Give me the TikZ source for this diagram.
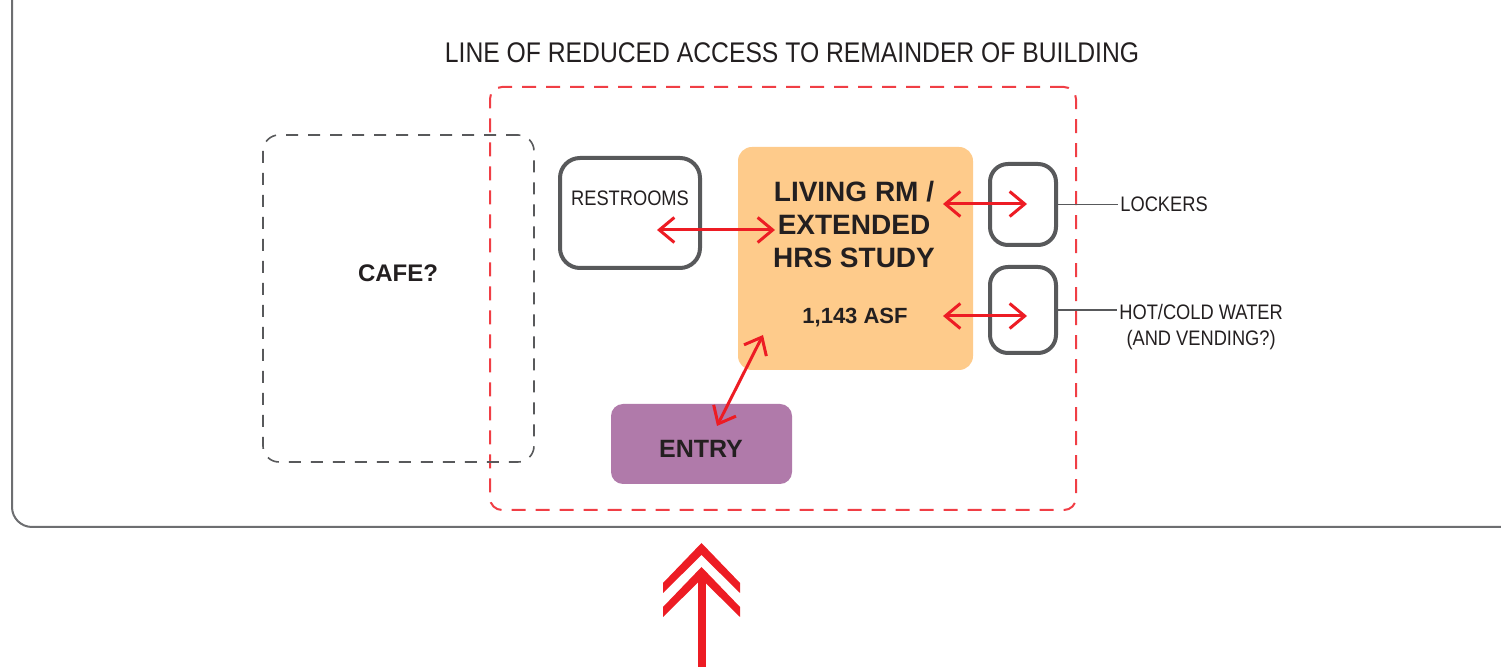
\documentclass[tikz,border=0pt]{standalone}
\usepackage{fontspec}
\setmainfont{Liberation Sans}
\newfontfamily\narrowsf{Liberation Sans}[FakeStretch=0.87]
\usetikzlibrary{arrows.meta, positioning}
\definecolor{ink}{HTML}{231F20}
\definecolor{alert}{HTML}{ED1C24}
\definecolor{wallgray}{HTML}{6D6E71}
\definecolor{boxgray}{HTML}{58595B}
\definecolor{study}{HTML}{FECB8B}
\definecolor{entryc}{HTML}{B07AAA}
\tikzset{
  wall/.style={draw=wallgray, line width=1pt, rounded corners=10pt},
  zone/.style={draw=alert!85, line width=1pt, dash pattern=on 7pt off 5pt,
               rounded corners=6pt},
  cafezone/.style={draw=boxgray, line width=0.8pt, dash pattern=on 6pt off 5pt,
               rounded corners=8pt},
  rm/.style={draw=boxgray, line width=2pt, rounded corners=10pt},
  lbl/.style={text=ink, inner sep=1pt, font=\fontsize{10.5}{12.7}\selectfont\narrowsf},
  hd/.style={text=ink, inner sep=1pt, align=center, font=\fontsize{14}{16.5}\selectfont\bfseries},
  fl/.style={{Straight Barb[length=7.5pt, width=12.5pt]}-{Straight Barb[length=7.5pt, width=12.5pt]},
             draw=alert, line width=1.5pt},
  ld/.style={draw=boxgray, line width=0.6pt},
}

\begin{document}
\begin{tikzpicture}[x=0.5pt, y=-0.5pt]
  \useasboundingbox (0,0) rectangle (1501,667);
  % building edge
  \draw[wall] (12,0) -- (12,527) -- (1501,527);
  \node[lbl, font=\fontsize{14.2}{17}\selectfont\narrowsf] (title) at (792,53)
    {LINE OF REDUCED ACCESS TO REMAINDER OF BUILDING};

  % zones
  \node[zone, minimum width=293pt, minimum height=211.5pt] (zone) at (783,298.5) {};
  \node[cafezone, minimum width=135.5pt, minimum height=163.5pt] (cafe) at (398.5,298.5) {};
  \node[hd, font=\fontsize{12}{14}\selectfont\bfseries] (cafetx) at (398,273) {CAFE?};

  % rooms
  \node[rm, minimum width=70pt, minimum height=55pt] (rest) at (630,213) {};
  \node[lbl] (resttx) at (630,198) {RESTROOMS};
  \node[fill=study, rounded corners=7pt, minimum width=117.5pt, minimum height=111.5pt]
    (living) at (855.5,258.5) {};
  \node[hd] (livingtx) at (854,224) {LIVING RM /\\EXTENDED\\HRS STUDY};
  \node[hd, font=\fontsize{11}{13}\selectfont\bfseries] (asf) at (855,318) {1,143 ASF};
  \node[fill=entryc, rounded corners=6pt, minimum width=90.5pt, minimum height=40pt]
    (entry) at (701.5,444) {};
  \node[hd, font=\fontsize{12.5}{15}\selectfont\bfseries] (entrytx) at (701,449) {ENTRY};
  \node[rm, rounded corners=9pt, minimum width=33pt, minimum height=40.5pt] (lockers) at (1023,204.5) {};
  \node[rm, rounded corners=9pt, minimum width=33pt, minimum height=43pt] (water) at (1023,310) {};

  % side labels
  \node[lbl, right=30pt of lockers] (lockerstx) {LOCKERS};
  \node[lbl, align=center, anchor=north west] (watertx) at (1117,302)
    {HOT/COLD WATER\\(AND VENDING?)};
  \draw[ld] (lockers.east) -- (lockerstx.west);
  \draw[ld] (water.east) -- (water.east -| watertx.west);

  % adjacency arrows
  \coordinate (r1) at (657,230);
  \coordinate (r2) at (775,230);
  \coordinate (l1) at (943,204);
  \coordinate (l2) at (1027,204);
  \coordinate (w1) at (943,316);
  \coordinate (w2) at (1027,316);
  \coordinate (e1) at (763,335);
  \coordinate (e2) at (717,426);
  \draw[fl] (r1) -- (r2);
  \draw[fl] (l1) -- (l2);
  \draw[fl] (w1) -- (w2);
  \draw[fl] (e1) -- (e2);

  % main approach
  \fill[alert] (663,583) -- (701.5,543) -- (740,583) -- (740,593) -- (701.5,555) -- (663,593) -- cycle;
  \fill[alert] (663,607) -- (701.5,567) -- (740,607) -- (740,617) -- (701.5,579) -- (663,617) -- cycle;
  \fill[alert] (697.5,575) rectangle (705.5,667);
\end{tikzpicture}
\end{document}
